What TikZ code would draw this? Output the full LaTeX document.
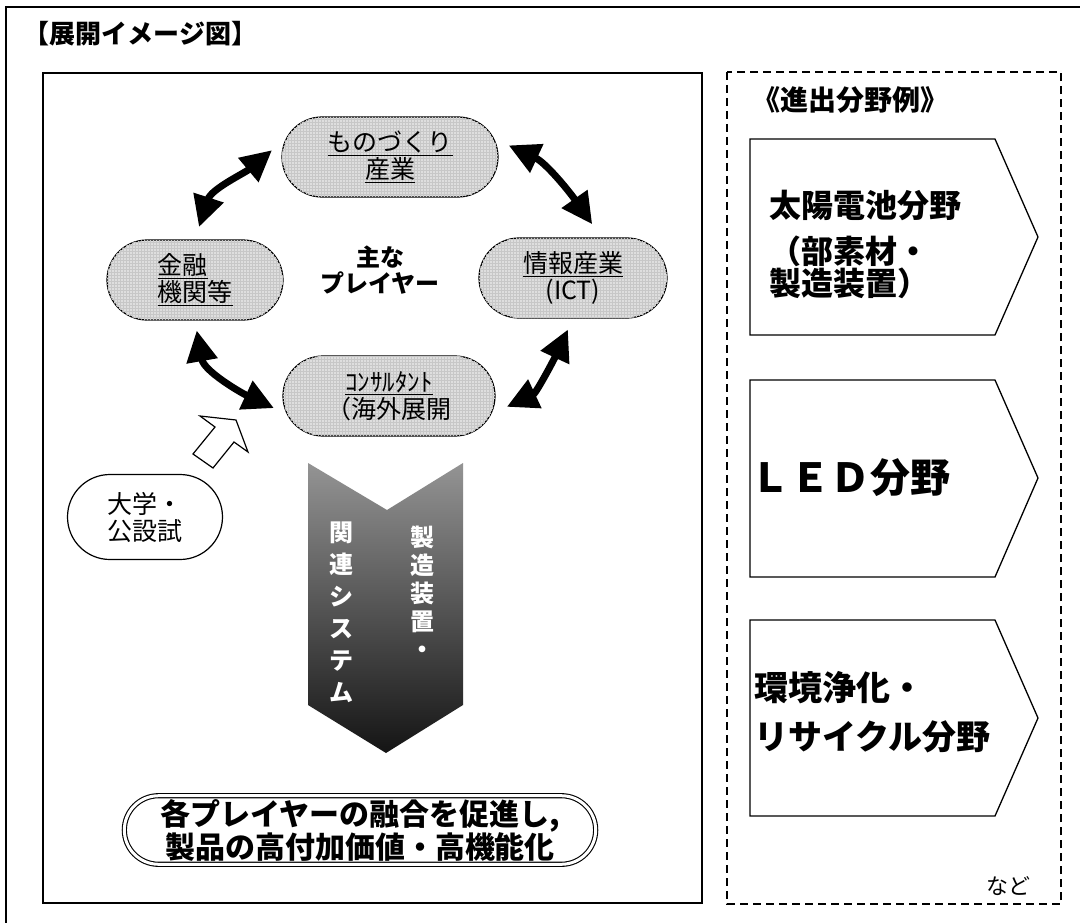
\documentclass[tikz,border=0pt]{standalone}
\usepackage{fontspec}
\setmainfont{Noto Sans CJK JP}
\usetikzlibrary{shapes.misc,arrows.meta,positioning,patterns}

\tikzset{pill/.style={rounded rectangle, draw, line width=1.2pt,
    minimum width=#1, minimum height=80pt, inner sep=0pt, align=center,
    font=\fontsize{25}{27}\selectfont},
  player/.style={pill=#1, fill=black!13,
    postaction={pattern=grid, pattern color=black!22}},
  link/.style={line width=7pt,
    {Triangle[length=31pt,width=30pt]}-{Triangle[length=31pt,width=30pt]}},
  field/.style={anchor=west, align=left, font=\fontsize{32}{32}\selectfont\bfseries},
  vtext/.style={white, align=center, font=\fontsize{24}{28}\selectfont\bfseries},
  frame/.style={line width=1.6pt},
  pentagon/.style={line width=1.3pt, fill=white},
    }

\begin{document}
\begin{tikzpicture}[x=1pt,y=-1pt]
\clip (0,0) rectangle (1080,923);
\fill[white] (0,0) rectangle (1080,923);
% frames
\draw[frame] (6,7) rectangle (1100,940);
\draw[frame] (43,73) rectangle (702,903);
\draw[line width=1.5pt, dash pattern=on 8pt off 5pt] (727,72) rectangle (1061,904);
\node[anchor=west, font=\fontsize{26}{26}\selectfont\bfseries] (title) at (20,34) {【展開イメージ図】};

% players
\node[player=216] (mono) at (390,157) {\underline{ものづくり}\\\underline{産業}};
\node[player=176, align=left] (kinyu) at (195,280) {\underline{金融}\\\underline{機関等}};
\node[player=188] (joho) at (573,278) {\underline{情報産業}\\(ICT)};
\node[player=212] (consul) at (389,396) {\underline{ｺﾝｻﾙﾀﾝﾄ}\\（海外展開};
\node[align=center, font=\fontsize{24}{26}\selectfont\bfseries] (main) at (380,270) {主な\\プレイヤー};
\node[pill=155, fill=white, minimum height=85pt, align=left] (univ) at (145,517) {大学・\\公設試};

\draw[link, shorten <=13pt, shorten >=18pt] (kinyu.north) to[out=72,in=-140] (mono.170);
\draw[link, shorten <=16pt, shorten >=16pt] (mono.10) to[out=-25,in=125] (joho.55);
\draw[link, shorten <=12pt, shorten >=17pt] (joho.south) to[out=-115,in=25] (consul.-10);
\draw[link, shorten <=10pt, shorten >=14pt] (kinyu.south) to[out=-80,in=155] (consul.190);

% hollow arrow from univ
\draw[line width=1.2pt, fill=white] (193,454) -- (213,468) -- (234,442) -- (248,452)
  -- (236,420) -- (200,416) -- (215,427) -- cycle;

% big chevron
\shade[top color=black!42, bottom color=black!92] (308,463) -- (387,510) -- (463,463)
  -- (463,705) -- (386,753) -- (308,705) -- cycle;
\node[vtext] (seizo) at (422,592) {製\\造\\装\\置\\・};
\node[vtext, font=\fontsize{24}{32}\selectfont\bfseries] (kanren) at (341,612) {関\\連\\シ\\ス\\テ\\ム};

% goal
\node[rounded rectangle, draw, double, line width=1.1pt, double distance=3pt,
  minimum width=478pt, minimum height=64pt, align=center,
  font=\fontsize{30}{33}\selectfont\bfseries] (goal) at (360,830)
  {各プレイヤーの融合を促進し,\\製品の高付加価値・高機能化};

% fields
\node[anchor=west, font=\fontsize{28}{28}\selectfont\bfseries] (fieldhead) at (749,100) {《進出分野例》};
\draw[pentagon] (750,139) -- (995,139) -- (1038,237) -- (995,335) -- (750,335) -- cycle;
\draw[pentagon] (750,380) -- (995,380) -- (1038,478) -- (995,577) -- (750,577) -- cycle;
\draw[pentagon] (750,620) -- (995,620) -- (1038,718) -- (995,816) -- (750,816) -- cycle;
\node[field] (solar) at (766,244) {太陽電池分野\\[14pt]（部素材・\\製造装置）};
\node[field, font=\fontsize{40}{40}\selectfont\bfseries] (led) at (747,478) {ＬＥＤ分野};
\node[field, font=\fontsize{34}{49}\selectfont\bfseries] (recycle) at (751,712) {環境浄化・\\リサイクル分野};
\node[font=\fontsize{22}{22}\selectfont] (etc) at (1008,886) {など};
\end{tikzpicture}
\end{document}
